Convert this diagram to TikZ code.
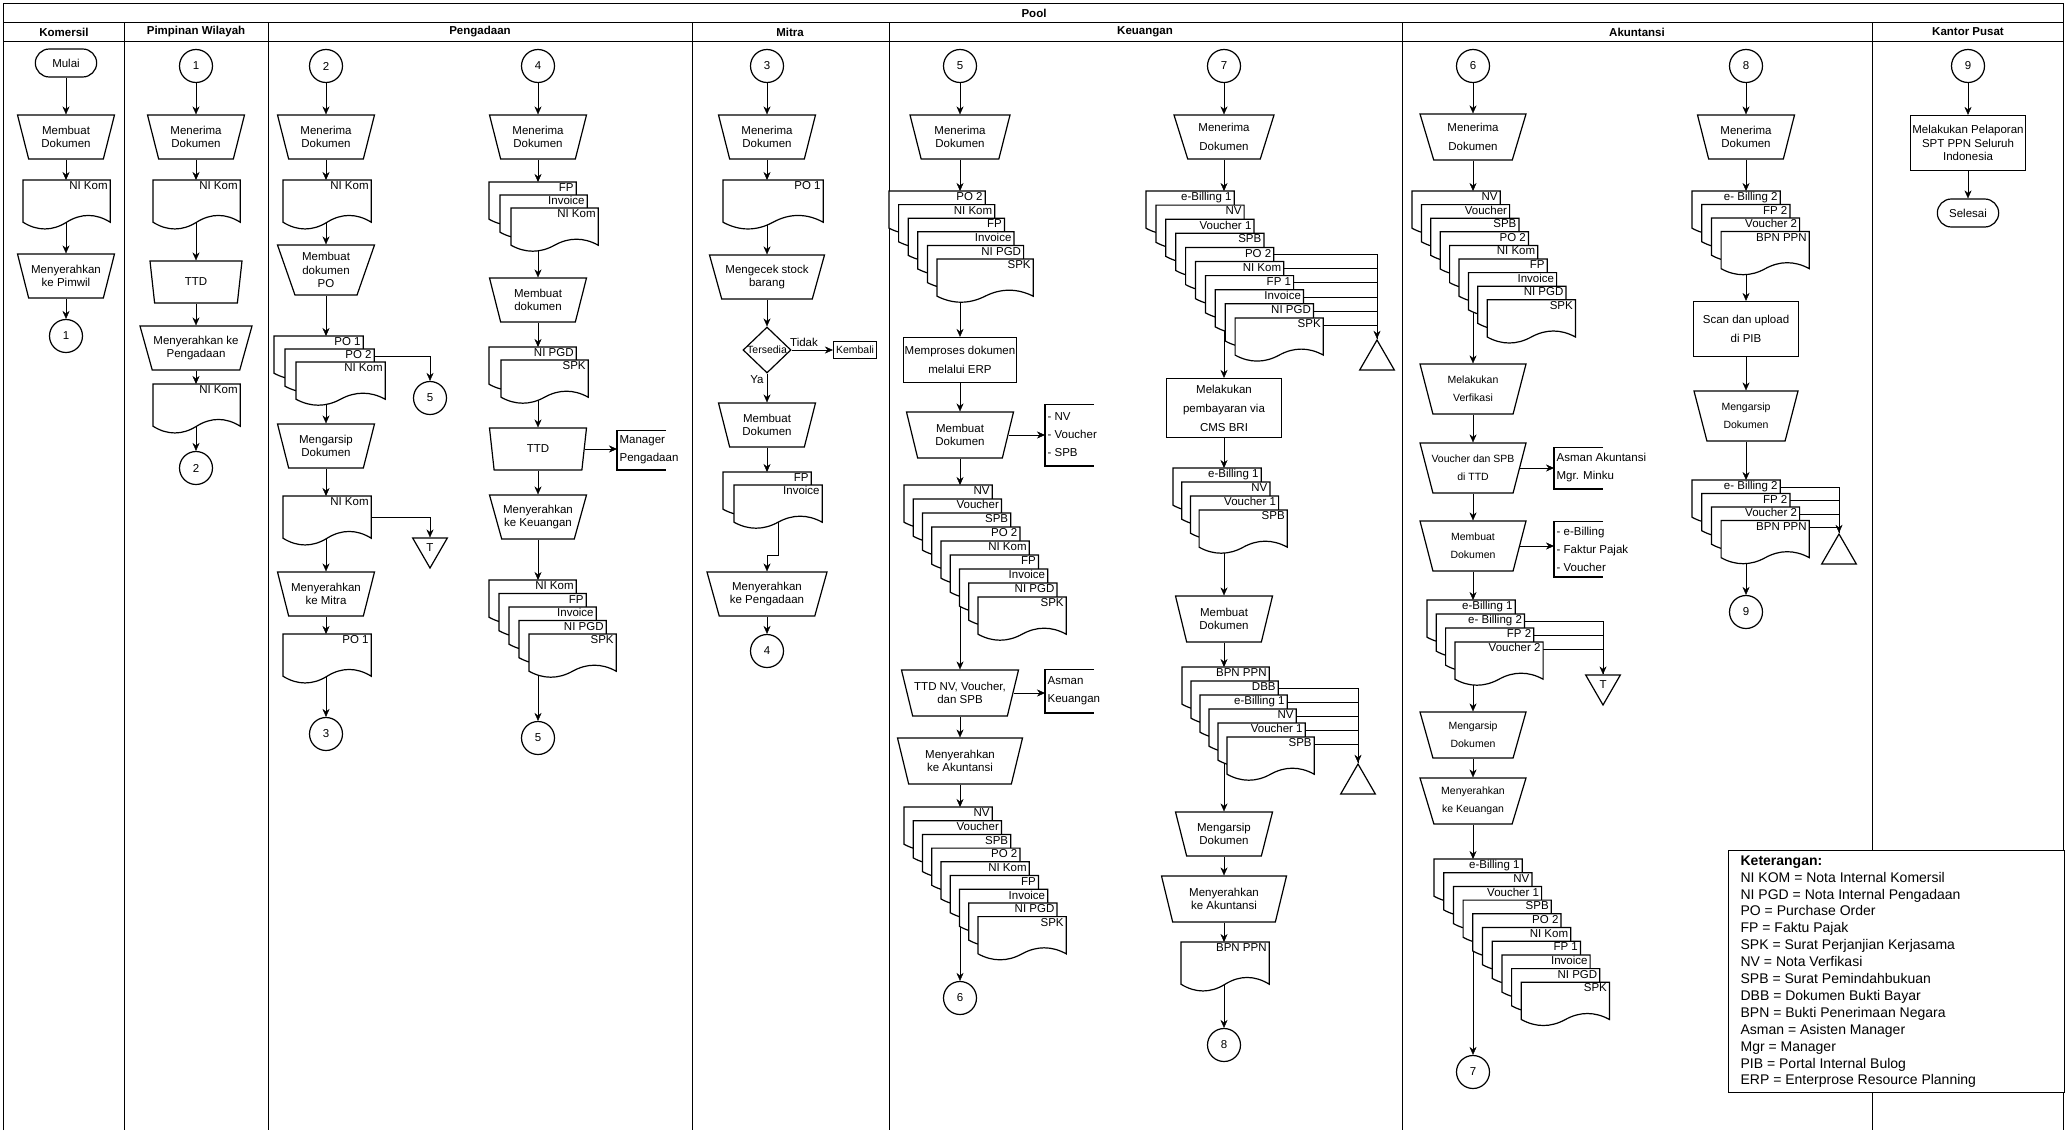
\documentclass[tikz,border=0pt]{standalone}
\usepackage{fontspec}
\setmainfont{Liberation Sans}
\usetikzlibrary{arrows.meta,shapes.geometric,shapes.misc}

\pgfdeclarelayer{bg}
\pgfsetlayers{bg,main}

\newcommand{\fnt}{\fontsize{11.5}{13.5}\selectfont}

% dokumen: nama, x, y (kiri atas), lebar, tinggi, gelombang, label
\newcommand{\dok}[7]{%
  \node[inner sep=0, minimum width=#4, minimum height=#5, anchor=north west] (#1) at (#2,#3) {};
  \draw[fill=white] (#1.north west) -- (#1.north east) -- (#1.south east)
    .. controls +(-#4/6,-#6) and +(#4/6,-#6) .. (#1.south)
    .. controls +(-#4/6,#6) and +(#4/6,#6) .. (#1.south west) -- cycle;
  \node[anchor=north east, inner xsep=2pt, inner ysep=1pt] (#1-l) at (#1.north east) {#7};
}

% tumpukan dokumen: awalan, x0, y0, dx, dy, lebar, label
\newcommand{\tumpuk}[7]{%
  \foreach \lbl [count=\i from 0] in {#7}{
    \dok{#1\i}{#2+\i*#4}{#3+\i*#5}{#6}{36}{8}{\lbl}
  }
}

% anotasi: nama, x, y, tinggi, teks
\newcommand{\kurung}[5]{%
  \node[inner sep=0, minimum width=48, minimum height=#4, anchor=west] (#1) at (#2,#3) {};
  \draw[line width=1.8pt] (#1.north east) -- (#1.north west) -- (#1.south west) -- (#1.south east);
  \node[anchor=west, align=left, inner sep=2pt, font=\fontsize{11.5}{18}\selectfont] (#1-t) at (#1.west) {#5};
}

\begin{document}
\begin{tikzpicture}[x=1pt, y=-1pt, >={Stealth[length=8pt,width=7pt]}, line width=1.2pt, font=\fnt]

  \tikzstyle{manual}=[draw, fill=white, trapezium, shape border rotate=180, trapezium stretches body,
    trapezium angle=65, minimum width=97, minimum height=44, inner xsep=-4pt, inner ysep=1pt, align=center]
  \tikzstyle{proses}=[draw, fill=white, minimum height=45, inner sep=1pt, align=center]
  \tikzstyle{sambung}=[draw, fill=white, circle, minimum size=33, inner sep=0]
  \tikzstyle{terminal}=[draw, fill=white, rounded rectangle, minimum width=68, minimum height=28]
  \tikzstyle{arsip}=[draw, fill=white, regular polygon, regular polygon sides=3, shape border rotate=180, minimum size=40, inner sep=0]
  \tikzstyle{ekstrak}=[draw, fill=white, regular polygon, regular polygon sides=3, minimum size=40, inner sep=0]
  \tikzstyle{arr}=[->]
  \tikzstyle{judul}=[font=\fnt\bfseries]
  \tikzstyle{renggang}=[font=\fontsize{11.5}{19}\selectfont]
  \tikzstyle{kecil}=[font=\fontsize{10.5}{18}\selectfont]
  \tikzstyle{garis}=[line width=1pt]

  \useasboundingbox (0,0) rectangle (2067,1130);

  % kolom
  \draw[garis] (3.5,1130) -- (3.5,3.5) -- (2063.5,3.5) -- (2063.5,1130);
  \draw[garis] (3.5,22.5) -- (2063.5,22.5);
  \draw[garis] (3.5,41.5) -- (2063.5,41.5);
  \foreach \xl in {124.5,268.5,692.5,889.5,1402.5,1872.5}
    \draw[garis] (\xl,22.5) -- (\xl,1130);

  \node[judul] (pool) at (1034,13) {Pool};
  \node[judul] (lkom) at (64,32) {Komersil};
  \node[judul] (lpim) at (196,32) {Pimpinan Wilayah};
  \node[judul] (lpgd) at (480,32) {Pengadaan};
  \node[judul] (lmit) at (790,32) {Mitra};
  \node[judul] (lkeu) at (1145,32) {Keuangan};
  \node[judul] (lakt) at (1637,32) {Akuntansi};
  \node[judul] (lkp) at (1968,32) {Kantor Pusat};

  % Komersil
  \node[terminal] (mulai) at (66,63) {Mulai};
  \node[manual] (k1) at (66,137) {Membuat\\Dokumen};
  \dok{k2}{23}{180}{86}{41}{9}{NI Kom}
  \node[manual] (k3) at (66,276) {Menyerahkan\\ke Pimwil};
  \node[sambung] (k4) at (66,336) {1};

  % Pimpinan Wilayah
  \node[sambung] (p0) at (196,66) {1};
  \node[manual] (p1) at (196,137) {Menerima\\Dokumen};
  \dok{p2}{153}{180}{86}{41}{9}{NI Kom}
  \node[manual, minimum width=92, minimum height=42] (p3) at (196,282) {TTD};
  \node[manual, minimum width=112] (p4) at (196,348) {Menyerahkan ke\\Pengadaan};
  \dok{p5}{153}{384}{86}{41}{9}{NI Kom}
  \node[sambung] (p6) at (196,468) {2};

  % Pengadaan
  \node[sambung] (g0) at (326,66) {2};
  \node[manual] (g1) at (326,137) {Menerima\\Dokumen};
  \dok{g2}{283}{180}{87}{41}{9}{NI Kom}
  \node[manual, minimum height=50] (g3) at (326,270) {Membuat\\dokumen\\PO};
  \tumpuk{g4}{274}{336}{11}{13}{88}{PO 1,PO 2,NI Kom}
  \node[sambung] (g5) at (430,398) {5};
  \node[manual] (g6) at (326,446) {Mengarsip\\Dokumen};
  \dok{g7}{283}{496}{87}{41}{9}{NI Kom}
  \node[arsip] (g8) at (430,548) {T};
  \node[manual] (g9) at (326,594) {Menyerahkan\\ke Mitra};
  \dok{g10}{283}{634}{87}{41}{9}{PO 1}
  \node[sambung] (g11) at (326,734) {3};

  \node[sambung] (h0) at (538,66) {4};
  \node[manual] (h1) at (538,137) {Menerima\\Dokumen};
  \tumpuk{h2}{489}{182}{11}{13}{86}{FP,Invoice,NI Kom}
  \node[manual] (h3) at (538,300) {Membuat\\dokumen};
  \tumpuk{h4}{489}{347}{12}{13}{86}{NI PGD,SPK}
  \node[manual, minimum height=42] (h5) at (538,449) {TTD};
  \kurung{h6}{617}{450}{38}{Manager\\Pengadaan}
  \node[manual] (h7) at (538,517) {Menyerahkan\\ke Keuangan};
  \tumpuk{h8}{489}{580}{10}{13.5}{86}{NI Kom,FP,Invoice,NI PGD,SPK}
  \node[sambung] (h9) at (538,738) {5};

  % Mitra
  \node[sambung] (m0) at (767,66) {3};
  \node[manual] (m1) at (767,137) {Menerima\\Dokumen};
  \dok{m2}{723}{180}{99}{41}{9}{PO 1}
  \node[manual, minimum width=115] (m3) at (767,277) {Mengecek stock\\barang};
  \node[draw, fill=white, diamond, minimum width=48, minimum height=46, inner sep=0,
    label={[font=\fontsize{10.5}{12}\selectfont]center:Tersedia}] (m4) at (767,350) {};
  \node[draw, fill=white, minimum width=43, minimum height=17, inner sep=1pt,
    font=\fontsize{10.5}{12}\selectfont] (m5) at (855,350) {Kembali};
  \node[manual] (m6) at (767,425) {Membuat\\Dokumen};
  \tumpuk{m7}{723}{472}{11}{13}{87}{FP,Invoice}
  \node[manual, minimum width=120] (m8) at (767,594) {Menyerahkan\\ke Pengadaan};
  \node[sambung] (m9) at (767,651) {4};

  % Keuangan
  \node[sambung] (u0) at (960,66) {5};
  \node[manual, minimum width=100] (u1) at (960,137) {Menerima\\Dokumen};
  \tumpuk{u2}{889}{191}{9.6}{13.6}{95}{PO 2,NI Kom,FP,Invoice,NI PGD,SPK}
  \node[proses, minimum width=111, renggang] (u3) at (960,360) {Memproses dokumen\\melalui ERP};
  \node[manual, minimum width=107, minimum height=46] (u4) at (960,435) {Membuat\\Dokumen};
  \kurung{u5}{1045}{435}{60}{- NV\\- Voucher\\- SPB}
  \tumpuk{u6}{904}{485}{9.25}{14}{87}{NV,Voucher,SPB,PO 2,NI Kom,FP,Invoice,NI PGD,SPK}
  \node[manual, minimum width=117, minimum height=46] (u7) at (960,693) {TTD NV, Voucher,\\dan SPB};
  \kurung{u8}{1045}{691}{42}{Asman\\Keuangan}
  \node[manual, minimum width=125, minimum height=46] (u9) at (960,761) {Menyerahkan\\ke Akuntansi};
  \tumpuk{u10}{904}{807}{9.25}{13.7}{87}{NV,Voucher,SPB,PO 2,NI Kom,FP,Invoice,NI PGD,SPK}
  \node[sambung] (u11) at (960,998) {6};

  \node[sambung] (v0) at (1224,66) {7};
  \node[manual, minimum width=100, renggang] (v1) at (1224,137) {Menerima\\Dokumen};
  \tumpuk{v2}{1146}{191}{9.9}{14.1}{87}{e-Billing 1,NV,Voucher 1,SPB,PO 2,NI Kom,FP 1,Invoice,NI PGD,SPK}
  \node[ekstrak] (v3) at (1377,360) {};
  \node[proses, minimum width=115, minimum height=59, renggang] (v4) at (1224,408) {Melakukan\\pembayaran via\\CMS BRI};
  \tumpuk{v5}{1173}{468}{8.7}{14}{87}{e-Billing 1,NV,Voucher 1,SPB}
  \node[manual, minimum height=46] (v6) at (1224,619) {Membuat\\Dokumen};
  \tumpuk{v7}{1182}{667}{9}{14}{86}{BPN PPN,DBB,e-Billing 1,NV,Voucher 1,SPB}
  \node[ekstrak] (v8) at (1358,784) {};
  \node[manual] (v9) at (1224,834) {Mengarsip\\Dokumen};
  \node[manual, minimum width=125, minimum height=46] (v10) at (1224,899) {Menyerahkan\\ke Akuntansi};
  \dok{v11}{1181}{942}{87}{41}{9}{BPN PPN}
  \node[sambung] (v12) at (1224,1045) {8};

  % Akuntansi
  \node[sambung] (a0) at (1473,66) {6};
  \node[manual, minimum width=106, minimum height=46, renggang] (a1) at (1473,137) {Menerima\\Dokumen};
  \tumpuk{a2}{1412}{191}{9.4}{13.6}{87}{NV,Voucher,SPB,PO 2,NI Kom,FP,Invoice,NI PGD,SPK}
  \node[manual, minimum width=106, minimum height=50, kecil] (a3) at (1473,389) {Melakukan\\Verfikasi};
  \node[manual, minimum width=106, minimum height=50, kecil] (a4) at (1473,468) {Voucher dan SPB\\di TTD};
  \kurung{a5}{1554}{468}{40}{Asman Akuntansi\\Mgr. Minku}
  \node[manual, minimum width=106, minimum height=50, kecil] (a6) at (1473,546) {Membuat\\Dokumen};
  \kurung{a7}{1554}{549}{54}{- e-Billing\\- Faktur Pajak\\- Voucher}
  \tumpuk{a8}{1427}{600}{9.3}{14}{87}{e-Billing 1,e- Billing 2,FP 2,Voucher 2}
  \node[arsip] (a9) at (1603,685) {T};
  \node[manual, minimum width=106, minimum height=46, kecil] (a10) at (1473,735) {Mengarsip\\Dokumen};
  \node[manual, minimum width=106, minimum height=46, kecil] (a11) at (1473,801) {Menyerahkan\\ke Keuangan};
  \tumpuk{a12}{1434}{859}{9.7}{13.7}{87}{e-Billing 1,NV,Voucher 1,SPB,PO 2,NI Kom,FP 1,Invoice,NI PGD,SPK}
  \node[sambung] (a13) at (1473,1072) {7};

  \node[sambung] (b0) at (1746,66) {8};
  \node[manual] (b1) at (1746,137) {Menerima\\Dokumen};
  \tumpuk{b2}{1692}{191}{9.7}{13.5}{87}{e- Billing 2,FP 2,Voucher 2,BPN PPN}
  \node[proses, minimum width=105, minimum height=55, renggang] (b3) at (1746,329) {Scan dan upload\\di PIB};
  \node[manual, minimum width=104, minimum height=50, kecil] (b4) at (1746,416) {Mengarsip\\Dokumen};
  \tumpuk{b5}{1692}{480}{9.7}{13.5}{87}{e- Billing 2,FP 2,Voucher 2,BPN PPN}
  \node[ekstrak] (b6) at (1839,554) {};
  \node[sambung] (b7) at (1746,612) {9};

  % Kantor Pusat
  \node[sambung] (c0) at (1968,66) {9};
  \node[proses, minimum width=115, minimum height=55] (c1) at (1968,143) {Melakukan Pelaporan\\SPT PPN Seluruh\\Indonesia};
  \node[terminal] (c2) at (1968,213) {Selesai};

  % keterangan
  \node[draw, fill=white, anchor=north west, minimum width=336, minimum height=242, inner sep=0] (ket) at (1728,850) {};
  \node[anchor=north west, align=left, inner sep=0, font=\fontsize{14}{16.9}\selectfont] (ket-t) at (1740,855)
    {\textbf{Keterangan:}\\NI KOM = Nota Internal Komersil\\NI PGD = Nota Internal Pengadaan\\
     PO = Purchase Order\\FP = Faktu Pajak\\SPK = Surat Perjanjian Kerjasama\\NV = Nota Verfikasi\\
     SPB = Surat Pemindahbukuan\\DBB = Dokumen Bukti Bayar\\BPN = Bukti Penerimaan Negara\\
     Asman = Asisten Manager\\Mgr = Manager\\PIB = Portal Internal Bulog\\ERP = Enterprose Resource Planning};

  \begin{pgfonlayer}{bg}
    % Komersil
    \draw[arr] (mulai.south) -- (mulai.south |- k1.north);
    \draw[arr] (k1.south) -- (k1.south |- k2.north);
    \draw[arr] (k3.north |- k2.center) -- (k3.north);
    \draw[arr] (k3.south) -- (k3.south |- k4.north);
    % Pimpinan Wilayah
    \draw[arr] (p0.south) -- (p0.south |- p1.north);
    \draw[arr] (p1.south) -- (p1.south |- p2.north);
    \draw[arr] (p3.north |- p2.center) -- (p3.north);
    \draw[arr] (p3.south) -- (p3.south |- p4.north);
    \draw[arr] (p4.south) -- (p4.south |- p5.north);
    \draw[arr] (p6.north |- p5.center) -- (p6.north);
    % Pengadaan
    \draw[arr] (g0.south) -- (g0.south |- g1.north);
    \draw[arr] (g1.south) -- (g1.south |- g2.north);
    \draw[arr] (g3.north |- g2.center) -- (g3.north);
    \draw[arr] (g3.south) -- (g3.south |- g40.north);
    \draw[arr] ([yshift=-7]g41.north east) -| (g5.north);
    \draw[arr] (g6.north |- g40.center) -- (g6.north);
    \draw[arr] (g6.south) -- (g6.south |- g7.north);
    \draw[arr] (g7.east) -| (g8.north);
    \draw[arr] (g9.north |- g7.center) -- (g9.north);
    \draw[arr] (g9.south) -- (g9.south |- g10.north);
    \draw[arr] (g11.north |- g10.center) -- (g11.north);
    \draw[arr] (h0.south) -- (h0.south |- h1.north);
    \draw[arr] (h1.south) -- (h1.south |- h20.north);
    \draw[arr] (h3.north |- h20.center) -- (h3.north);
    \draw[arr] (h3.south) -- (h3.south |- h40.north);
    \draw[arr] (h5.north |- h40.center) -- (h5.north);
    \draw[arr] (h5.east) -- (h5.east -| h6.west);
    \draw[arr] (h5.south) -- (h5.south |- h7.north);
    \draw[arr] (h7.south) -- (h7.south |- h80.north);
    \draw[arr] (h9.north |- h80.center) -- (h9.north);
    % Mitra
    \draw[arr] (m0.south) -- (m0.south |- m1.north);
    \draw[arr] (m1.south) -- (m1.south |- m2.north);
    \draw[arr] (m3.north |- m2.center) -- (m3.north);
    \draw[arr] (m3.south) -- (m3.south |- m4.north);
    \draw[arr] (m4.east) -- node[above, pos=0.3] (tidak) {Tidak} (m4.east -| m5.west);
    \draw[arr] (m4.south) -- node[left, pos=0.2] (ya) {Ya} (m4.south |- m6.north);
    \draw[arr] (m6.south) -- (m6.south |- m70.north);
    \draw[arr] (m71.south) |- ([yshift=16]m8.north) -- (m8.north);
    \draw[arr] (m8.south) -- (m8.south |- m9.north);
    % Keuangan
    \draw[arr] (u0.south) -- (u0.south |- u1.north);
    \draw[arr] (u1.south) -- (u1.south |- u20.north);
    \draw[arr] (u3.north |- u20.center) -- (u3.north);
    \draw[arr] (u3.south) -- (u3.south |- u4.north);
    \draw[arr] (u4.east) -- (u4.east -| u5.west);
    \draw[arr] (u4.south) -- (u4.south |- u60.north);
    \draw[arr] (u7.north |- u60.center) -- (u7.north);
    \draw[arr] (u7.east) -- (u7.east -| u8.west);
    \draw[arr] (u7.south) -- (u7.south |- u9.north);
    \draw[arr] (u9.south) -- (u9.south |- u100.north);
    \draw[arr] (u11.north |- u100.center) -- (u11.north);
    \draw[arr] (v0.south) -- (v0.south |- v1.north);
    \draw[arr] (v1.south) -- (v1.south |- v20.north);
    \draw[arr] ([yshift=-7]v24.north east) -| (v3.north);
    \foreach \j in {5,...,9}
      \draw ([yshift=-7]v2\j.north east) -| (v3.north);
    \draw[arr] (v4.north |- v20.center) -- (v4.north);
    \draw[arr] (v4.south) -- (v4.south |- v50.north);
    \draw[arr] (v6.north |- v50.center) -- (v6.north);
    \draw[arr] (v6.south) -- (v6.south |- v70.north);
    \draw[arr] ([yshift=-7]v71.north east) -| (v8.north);
    \foreach \j in {2,...,5}
      \draw ([yshift=-7]v7\j.north east) -| (v8.north);
    \draw[arr] (v9.north |- v70.center) -- (v9.north);
    \draw[arr] (v9.south) -- (v9.south |- v10.north);
    \draw[arr] (v10.south) -- (v10.south |- v11.north);
    \draw[arr] (v12.north |- v11.center) -- (v12.north);
    % Akuntansi
    \draw[arr] (a0.south) -- (a0.south |- a1.north);
    \draw[arr] (a1.south) -- (a1.south |- a20.north);
    \draw[arr] (a3.north |- a20.center) -- (a3.north);
    \draw[arr] (a3.south) -- (a3.south |- a4.north);
    \draw[arr] (a4.east) -- (a4.east -| a5.west);
    \draw[arr] (a4.south) -- (a4.south |- a6.north);
    \draw[arr] (a6.east) -- (a6.east -| a7.west);
    \draw[arr] (a6.south) -- (a6.south |- a80.north);
    \draw[arr] ([yshift=-7]a81.north east) -| (a9.north);
    \foreach \j in {2,3}
      \draw ([yshift=-7]a8\j.north east) -| (a9.north);
    \draw[arr] (a10.north |- a80.center) -- (a10.north);
    \draw[arr] (a10.south) -- (a10.south |- a11.north);
    \draw[arr] (a11.south) -- (a11.south |- a120.north);
    \draw[arr] (a13.north |- a120.center) -- (a13.north);
    \draw[arr] (b0.south) -- (b0.south |- b1.north);
    \draw[arr] (b1.south) -- (b1.south |- b20.north);
    \draw[arr] (b3.north |- b20.center) -- (b3.north);
    \draw[arr] (b3.south) -- (b3.south |- b4.north);
    \draw[arr] (b4.south) -- (b4.south |- b50.north);
    \draw[arr] ([yshift=-7]b50.north east) -| (b6.north);
    \foreach \j in {1,2,3}
      \draw ([yshift=-7]b5\j.north east) -| (b6.north);
    \draw[arr] (b7.north |- b50.center) -- (b7.north);
    % Kantor Pusat
    \draw[arr] (c0.south) -- (c0.south |- c1.north);
    \draw[arr] (c1.south) -- (c1.south |- c2.north);
  \end{pgfonlayer}

\end{tikzpicture}
\end{document}
